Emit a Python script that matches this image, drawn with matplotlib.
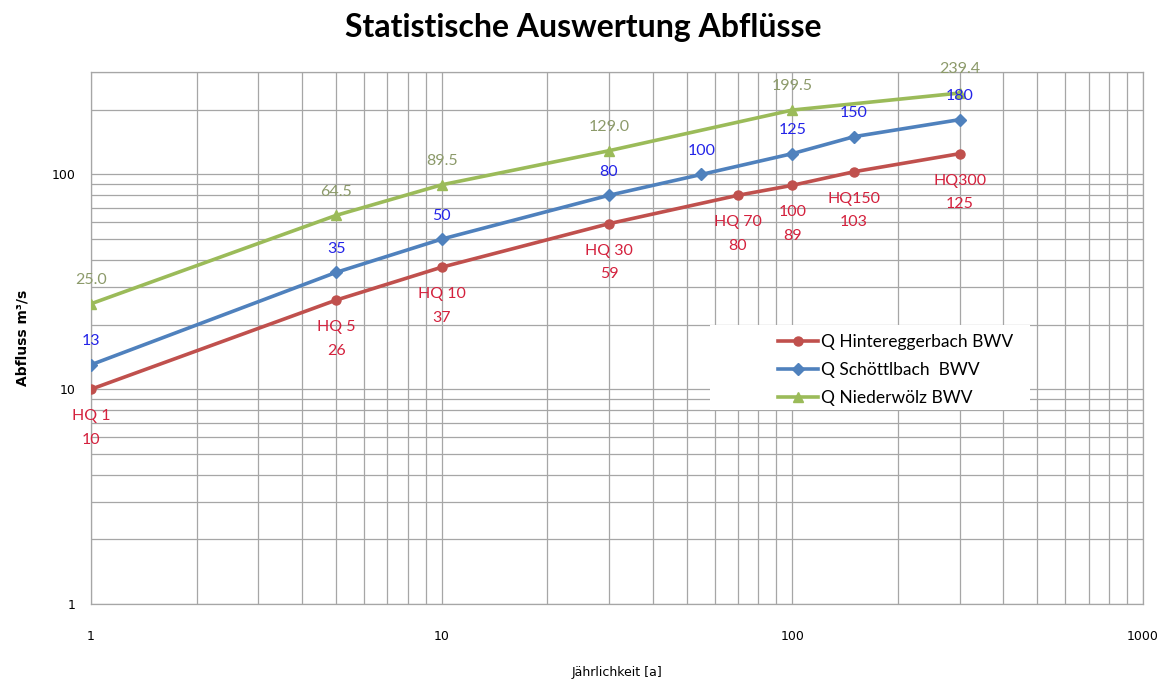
import matplotlib
matplotlib.use("Agg")
import matplotlib.pyplot as plt
from matplotlib.patches import Rectangle
from matplotlib.ticker import LogLocator, FixedLocator, NullFormatter

# --- Daten ---
x_hint = [1, 5, 10, 30, 70, 100, 150, 300]
q_hint = [10, 26, 37, 59, 80, 89, 103, 125]
lbl_hint = ["HQ 1", "HQ 5", "HQ 10", "HQ 30", "HQ 70", "100", "HQ150", "HQ300"]

x_schoe = [1, 5, 10, 30, 55, 100, 150, 300]
q_schoe = [13, 35, 50, 80, 100, 125, 150, 180]

x_nied = [1, 5, 10, 30, 100, 300]
q_nied = [25.0, 64.5, 89.5, 129.0, 199.5, 239.4]

x_ticks = [1, 10, 100, 1000]
y_ticks = [1, 10, 100]

RED = "#c0504d"
BLUE = "#4f81bd"
GREEN = "#9bbb59"
GRID = "#a6a6a6"
LBL_FONT = "Lato"
LBL_SIZE = 11.5

W, H = 1169, 680
L, R, T, B = 91, 1143, 72, 604

fig = plt.figure(figsize=(W / 100, H / 100), dpi=100)
ax = fig.add_axes([L / W, 1 - B / H, (R - L) / W, (B - T) / H])
ax.set_xscale("log")
ax.set_yscale("log")
ax.set_xlim(1, 1000)
ax.set_ylim(1, 300)

# Gitter
ax.xaxis.set_major_locator(FixedLocator(x_ticks))
ax.yaxis.set_major_locator(FixedLocator(y_ticks))
ax.xaxis.set_minor_locator(LogLocator(base=10, subs=range(2, 10)))
ax.yaxis.set_minor_locator(LogLocator(base=10, subs=range(2, 10)))
ax.xaxis.set_minor_formatter(NullFormatter())
ax.yaxis.set_minor_formatter(NullFormatter())
ax.set_xticklabels([])
ax.set_yticklabels([str(v) for v in y_ticks])
ax.grid(True, which="both", color=GRID, linewidth=0.9)
ax.set_axisbelow(True)
for s in ax.spines.values():
    s.set_color(GRID)
    s.set_linewidth(0.9)
ax.tick_params(which="both", length=0)
ax.tick_params(axis="y", pad=11, labelsize=9)

# x-Beschriftung deutlich unterhalb der Achse (wie im Original)
for v in x_ticks:
    ax.text(v, -(636 - B) / (B - T), str(v), transform=ax.get_xaxis_transform(),
            ha="center", va="center", fontsize=9)

# Kurven
ax.plot(x_hint, q_hint, color=RED, lw=2.6, marker="o", ms=6.5,
        label="Q Hintereggerbach BWV", zorder=3)
ax.plot(x_schoe, q_schoe, color=BLUE, lw=2.6, marker="D", ms=6,
        label="Q Schöttlbach  BWV", zorder=3)
ax.plot(x_nied, q_nied, color=GREEN, lw=2.6, marker="^", ms=7.5,
        label="Q Niederwölz BWV", zorder=3)

# Datenbeschriftungen
for x, y, l in zip(x_hint, q_hint, lbl_hint):
    ax.annotate(l, (x, y), xytext=(0, -19.5), textcoords="offset points",
                ha="center", va="center", color="#d4213d", fontsize=LBL_SIZE,
                family=LBL_FONT, zorder=4)
    ax.annotate(str(y), (x, y), xytext=(0, -36.5), textcoords="offset points",
                ha="center", va="center", color="#d4213d", fontsize=LBL_SIZE,
                family=LBL_FONT, zorder=4)
for x, y in zip(x_schoe, q_schoe):
    ax.annotate(str(y), (x, y), xytext=(0, 17), textcoords="offset points",
                ha="center", va="center", color="#2424e8", fontsize=LBL_SIZE,
                family=LBL_FONT, zorder=4)
for x, y in zip(x_nied, q_nied):
    ax.annotate(f"{y:.1f}", (x, y), xytext=(0, 17), textcoords="offset points",
                ha="center", va="center", color="#8c9a6a", fontsize=LBL_SIZE,
                family=LBL_FONT, zorder=4)

ax.set_xlabel("Jährlichkeit [a]", fontsize=9)
ax.xaxis.set_label_coords(0.5, -(666 - B) / (B - T))
ax.set_ylabel("Abfluss m³/s", fontsize=10, fontweight="bold", labelpad=16)

fig.text(583 / W, 1 - 28 / H, "Statistische Auswertung Abflüsse",
         ha="center", va="center", fontsize=23, fontweight="bold",
         family="Lato")

# weisse Legendenfläche
fig.patches.append(Rectangle((710 / W, 1 - 410 / H), 320 / W, 85 / H,
                             transform=fig.transFigure, facecolor="white",
                             edgecolor="none", zorder=5))
leg = fig.legend(loc="upper left", bbox_to_anchor=(778 / W, 1 - 334 / H),
                 frameon=False, prop={"family": LBL_FONT, "size": 12.5},
                 handlelength=2.3, handletextpad=0.15, labelspacing=0.68,
                 borderpad=0, borderaxespad=0)
leg.set_zorder(6)

fig.savefig("out.png", dpi=100)
